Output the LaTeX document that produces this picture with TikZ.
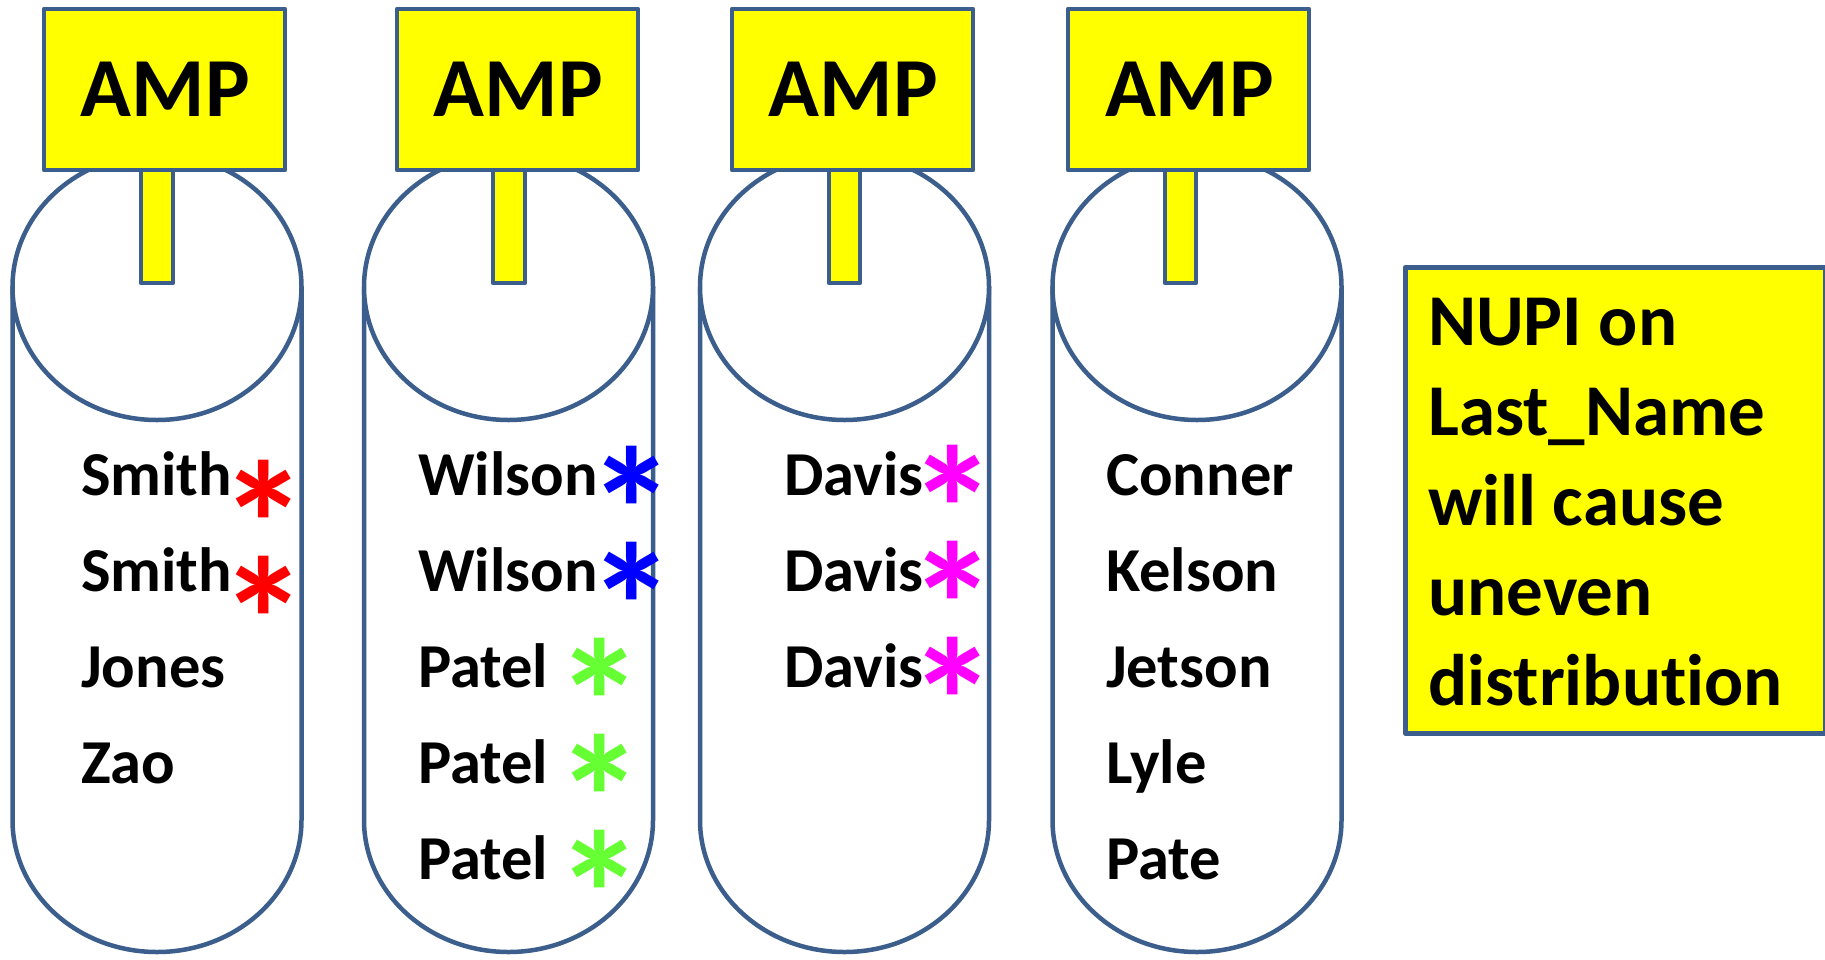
\documentclass[tikz,border=0pt]{standalone}
\usepackage{fontspec}
\setmainfont{Carlito}[Ligatures={NoCommon}]
\begin{document}
\begin{tikzpicture}[x=1pt,y=1pt,
  edge/.style={draw=bordercol,line width=4.5pt,line join=round},
  ampbox/.style={edge,fill=ampyellow},
  cyl/.style={edge,fill=white},
  amplabel/.style={font=\fontsize{84}{84}\selectfont\bfseries,inner sep=0pt,anchor=base},
  namelabel/.style={font=\fontsize{62.5}{62.5}\selectfont\bfseries,inner sep=0pt,anchor=base west},
  star/.style={font=\fontsize{178}{178}\selectfont\bfseries,inner sep=0pt,anchor=center},
  notelabel/.style={font=\fontsize{73}{90}\selectfont\bfseries,inner sep=0pt,anchor=north west,align=left}
]
\definecolor{bordercol}{HTML}{3B5E8C}
\definecolor{ampyellow}{HTML}{FFFF00}
\definecolor{starred}{HTML}{FF0000}
\definecolor{starblue}{HTML}{0000FF}
\definecolor{stargreen}{HTML}{66FF33}
\definecolor{starmagenta}{HTML}{FF00FF}
\useasboundingbox (0,0) rectangle (1825,-959);
\fill[white] (0,0) rectangle (1825,-959);

% cylinders
\foreach \cx in {157,508.5,844.5,1197}{
  \path[cyl] (\cx-144.5,-287) -- (\cx-144.5,-820)
     arc[start angle=180,end angle=360,x radius=144.5pt,y radius=132pt]
     -- (\cx+144.5,-287) -- cycle;
  \path[cyl] (\cx,-287) ellipse [x radius=144.5pt,y radius=133pt];
}

% stems
\path[ampbox] (141,-170) rectangle (173,-283);
\path[ampbox] (493,-170) rectangle (525,-283);
\path[ampbox] (829,-170) rectangle (860,-283);
\path[ampbox] (1165,-170) rectangle (1196,-283);

% AMP boxes
\node[ampbox,minimum width=241pt,minimum height=161pt,inner sep=0pt] (amp1) at (164.5,-89.5) {};
\node[ampbox,minimum width=241pt,minimum height=161pt,inner sep=0pt] (amp2) at (517.5,-89.5) {};
\node[ampbox,minimum width=241pt,minimum height=161pt,inner sep=0pt] (amp3) at (852.5,-89.5) {};
\node[ampbox,minimum width=241pt,minimum height=161pt,inner sep=0pt] (amp4) at (1188.5,-89.5) {};
\node[amplabel] (ampt1) at (165.5,-116) {AMP};
\node[amplabel] (ampt2) at (518.5,-116) {AMP};
\node[amplabel] (ampt3) at (853.5,-116) {AMP};
\node[amplabel] (ampt4) at (1189.5,-116) {AMP};

% column 1
\node[namelabel] (n11) at (81,-495) {Smith};
\node[namelabel] (n12) at (81,-591) {Smith};
\node[namelabel] (n13) at (81,-687) {Jones};
\node[namelabel] (n14) at (81,-783) {Zao};
\node[star,text=starred] (s11) at (264,-524) {*};
\node[star,text=starred] (s12) at (264,-620) {*};

% column 2
\node[namelabel] (n21) at (418,-495) {Wilson};
\node[namelabel] (n22) at (418,-591) {Wilson};
\node[namelabel] (n23) at (418,-687) {Patel};
\node[namelabel] (n24) at (418,-783) {Patel};
\node[namelabel] (n25) at (418,-879) {Patel};
\node[star,text=starblue] (s21) at (632,-510) {*};
\node[star,text=starblue] (s22) at (632,-606) {*};
\node[star,text=stargreen] (s23) at (600,-702) {*};
\node[star,text=stargreen] (s24) at (600,-798) {*};
\node[star,text=stargreen] (s25) at (600,-894) {*};

% column 3
\node[namelabel] (n31) at (784,-495) {Davis};
\node[namelabel] (n32) at (784,-591) {Davis};
\node[namelabel] (n33) at (784,-687) {Davis};
\node[star,text=starmagenta] (s31) at (953,-509) {*};
\node[star,text=starmagenta] (s32) at (953,-605) {*};
\node[star,text=starmagenta] (s33) at (953,-701) {*};

% column 4
\node[namelabel] (n41) at (1106,-495) {Conner};
\node[namelabel] (n42) at (1106,-591) {Kelson};
\node[namelabel] (n43) at (1106,-687) {Jetson};
\node[namelabel] (n44) at (1106,-783) {Lyle};
\node[namelabel] (n45) at (1106,-879) {Pate};

% note box
\node[ampbox,minimum width=420pt,minimum height=466pt,inner sep=0pt,anchor=north west] (note) at (1403,-265) {};
\node[notelabel] (notet) at (1428,-298) {NUPI on\\Last\_Name\\will cause\\uneven\\distribution};
\end{tikzpicture}
\end{document}
